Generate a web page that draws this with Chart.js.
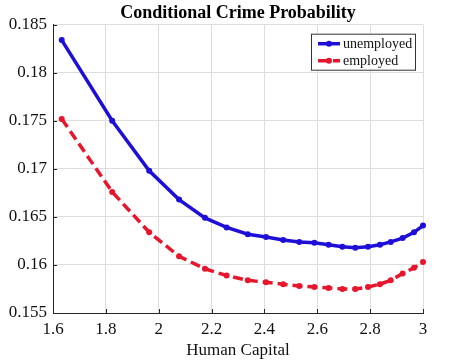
<!DOCTYPE html>
<html>
<head>
<meta charset="utf-8">
<script src="https://cdn.jsdelivr.net/npm/chart.js@4/dist/chart.umd.min.js"></script>
<style>
html,body{margin:0;padding:0;background:#fff;}
#wrap{width:451px;height:364px;}
</style>
</head>
<body>
<div id="wrap"><canvas id="c" width="451" height="364"></canvas></div>
<script>
const humanCapital = [1.633,1.824,1.964,2.077,2.175,2.257,2.337,2.406,2.471,2.532,2.589,2.643,2.695,2.744,2.792,2.837,2.878,2.923,2.966,3.0];
const unemployed = [0.1834,0.1750,0.1698,0.1668,0.1649,0.1639,0.1632,0.1629,0.1626,0.1624,0.1623,0.1621,0.1619,0.1618,0.1619,0.1621,0.1624,0.1628,0.1634,0.1641];
const employed = [0.1752,0.1676,0.1634,0.1609,0.1596,0.1589,0.1584,0.1582,0.1580,0.1578,0.1577,0.1576,0.1575,0.1575,0.1577,0.1580,0.1584,0.1591,0.1597,0.1603];
const xTickLabels = ["1.6","1.8","2","2.2","2.4","2.6","2.8","3"];
const yTickLabels = ["0.155","0.16","0.165","0.17","0.175","0.18","0.185"];
const seriesNames = ["unemployed","employed"];

const FONT = '"Liberation Serif","Times New Roman",serif';
const BLUE = '#1e0fd8';
const RED = '#e8162c';

function pts(ys){ return humanCapital.map((x,i)=>({x:x,y:ys[i]})); }

const innerTicks = {
  id:'innerTicks',
  afterDraw(chart){
    const ctx = chart.ctx, a = chart.chartArea;
    const xs = chart.scales.x, ys = chart.scales.y;
    ctx.save();
    ctx.strokeStyle = '#262626';
    ctx.lineWidth = 1;
    ctx.beginPath();
    xs.ticks.forEach(t=>{ const px = Math.round(xs.getPixelForValue(t.value))+0.5; ctx.moveTo(px,a.bottom); ctx.lineTo(px,a.bottom-4); });
    ys.ticks.forEach(t=>{ const py = Math.round(ys.getPixelForValue(t.value))+0.5; ctx.moveTo(a.left,py); ctx.lineTo(a.left+4,py); });
    ctx.stroke();
    ctx.restore();
  }
};

const boxLegend = {
  id:'boxLegend',
  afterDraw(chart){
    const ctx = chart.ctx, a = chart.chartArea;
    const x0 = a.right - 112, y0 = a.top + 9, w = 104, h = 36;
    ctx.save();
    ctx.fillStyle = '#fff';
    ctx.fillRect(x0, y0, w, h);
    ctx.strokeStyle = '#333';
    ctx.lineWidth = 1;
    ctx.strokeRect(x0+0.5, y0+0.5, w, h);
    ctx.font = '14px ' + FONT;
    ctx.textBaseline = 'middle';
    chart.data.datasets.forEach((ds,i)=>{
      const cy = y0 + 10 + i*17;
      ctx.strokeStyle = ds.borderColor;
      ctx.lineWidth = 3.5;
      ctx.setLineDash(ds.borderDash || []);
      ctx.beginPath(); ctx.moveTo(x0+7, cy); ctx.lineTo(x0+29, cy); ctx.stroke();
      ctx.setLineDash([]);
      ctx.fillStyle = ds.borderColor;
      ctx.beginPath(); ctx.arc(x0+18, cy, 3, 0, Math.PI*2); ctx.fill();
      ctx.fillStyle = '#111';
      ctx.fillText(ds.label, x0+32, cy+1);
    });
    ctx.restore();
  }
};

new Chart(document.getElementById('c'), {
  type:'line',
  data:{
    datasets:[
      {label:seriesNames[0], data:pts(unemployed), borderColor:BLUE, backgroundColor:BLUE, borderWidth:3.5, pointRadius:3, pointHoverRadius:3, pointBackgroundColor:BLUE, pointBorderWidth:0, tension:0, clip:false},
      {label:seriesNames[1], data:pts(employed), borderColor:RED, backgroundColor:RED, borderWidth:3.5, borderDash:[10,5], pointRadius:3, pointHoverRadius:3, pointBackgroundColor:RED, pointBorderWidth:0, tension:0, clip:false}
    ]
  },
  options:{
    responsive:false,
    animation:false,
    devicePixelRatio:1,
    layout:{padding:{left:0,right:28,top:0,bottom:0}},
    plugins:{
      legend:{display:false},
      tooltip:{enabled:false},
      title:{display:true, fullSize:false, text:'Conditional Crime Probability', color:'#000', font:{family:FONT, size:18, weight:'bold', lineHeight:1.15}, padding:{top:3,bottom:1}}
    },
    scales:{
      x:{
        type:'linear', min:1.6, max:3,
        afterBuildTicks(s){ s.ticks = xTickLabels.map(v=>({value:parseFloat(v)})); },
        afterFit(s){ s.height = 51; },
        grid:{color:'#dddddd', drawTicks:false, lineWidth:1},
        border:{display:true, color:'#262626', width:1},
        ticks:{color:'#111', font:{family:FONT, size:17}, padding:6, maxRotation:0,
          callback:(v)=>{ const i = xTickLabels.findIndex(t=>Math.abs(parseFloat(t)-v)<1e-6); return i>=0?xTickLabels[i]:''; }},
        title:{display:true, text:'Human Capital', color:'#111', font:{family:FONT, size:17}, padding:{top:0,bottom:3}}
      },
      y:{
        type:'linear', min:0.155, max:0.185,
        afterBuildTicks(s){ s.ticks = yTickLabels.map(v=>({value:parseFloat(v)})); },
        afterFit(s){ s.width = 53; },
        grid:{color:'#dddddd', drawTicks:false, lineWidth:1},
        border:{display:true, color:'#262626', width:1},
        ticks:{color:'#111', font:{family:FONT, size:17}, padding:6,
          callback:(v)=>{ const i = yTickLabels.findIndex(t=>Math.abs(parseFloat(t)-v)<1e-9); return i>=0?yTickLabels[i]:''; }}
      }
    }
  },
  plugins:[innerTicks, boxLegend]
});
</script>
</body>
</html>
